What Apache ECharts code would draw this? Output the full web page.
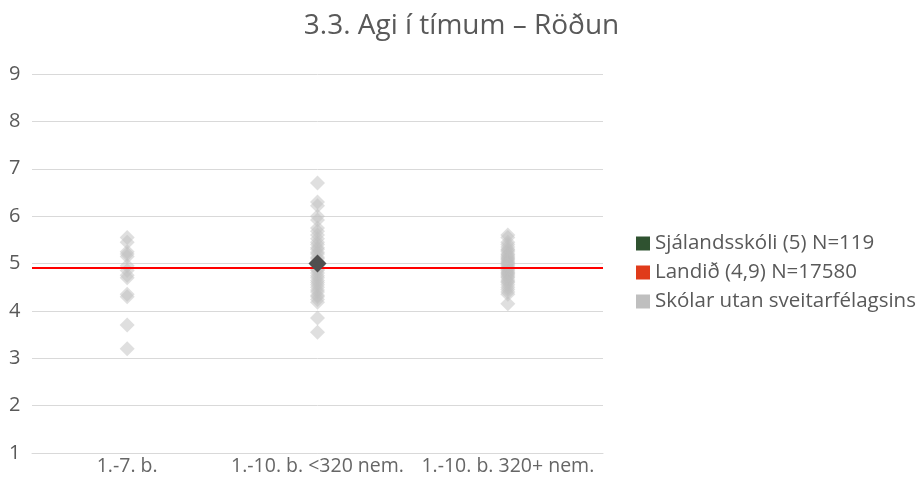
<!DOCTYPE html>
<html>
<head>
<meta charset="utf-8">
<script src="https://cdn.jsdelivr.net/npm/echarts@6/dist/echarts.min.js"></script>
<style>html,body{margin:0;padding:0;background:#fff}#c{width:923px;height:477px}</style>
</head>
<body>
<div id="c"></div>
<script>
var titleText = '3.3. Agi í tímum – Röðun';
var categories = ['1.-7. b.', '1.-10. b. <320 nem.', '1.-10. b. 320+ nem.'];
var yTicks = [1, 2, 3, 4, 5, 6, 7, 8, 9];
var schoolName = 'Sjálandsskóli (5) N=119';
var schoolCategory = 1;
var schoolValue = 5.0;
var countryName = 'Landið (4,9) N=17580';
var countryValue = 4.9;
var othersName = 'Skólar utan sveitarfélagsins';
var othersCat0 = [5.55, 5.45, 5.25, 5.2, 5.15, 4.95, 4.85, 4.75, 4.7, 4.35, 4.3, 3.7, 3.2];
var othersCat1 = [6.7, 6.3, 6.22, 6.0, 5.92, 5.75, 5.68, 5.6, 5.52, 5.45, 5.4, 5.33, 5.3, 5.24, 5.2, 5.13, 5.1, 5.04, 4.98, 4.95, 4.88, 4.85, 4.8, 4.74, 4.7, 4.64, 4.6, 4.55, 4.5, 4.44, 4.4, 4.33, 4.3, 4.24, 4.18, 3.85, 3.55];
var othersCat2 = [5.6, 5.55, 5.45, 5.4, 5.35, 5.3, 5.28, 5.25, 5.2, 5.18, 5.15, 5.12, 5.1, 5.08, 5.05, 5.02, 5.0, 4.98, 4.95, 4.92, 4.9, 4.88, 4.85, 4.82, 4.8, 4.78, 4.75, 4.72, 4.7, 4.65, 4.62, 4.6, 4.55, 4.5, 4.45, 4.4, 4.35, 4.15];

var othersData = [];
[othersCat0, othersCat1, othersCat2].forEach(function (arr, i) {
  arr.forEach(function (v) { othersData.push([i, v]); });
});

var font = '"Open Sans", "Noto Sans", sans-serif';
var chart = echarts.init(document.getElementById('c'), null, {renderer: 'canvas'});
chart.setOption({
  animation: false,
  textStyle: {fontFamily: font},
  title: {
    text: titleText, left: 'center', top: 7,
    textStyle: {fontFamily: font, fontSize: 28, fontWeight: 'normal', color: '#595959'}
  },
  grid: {left: 32, right: 320, top: 74, bottom: 24, containLabel: false},
  legend: {
    orient: 'vertical', left: 631, top: 228, itemWidth: 14, itemHeight: 14, itemGap: 8,
    itemTextGap: 8,
    icon: 'rect',
    textStyle: {fontFamily: font, fontSize: 20.5, color: '#595959'},
    data: [
      {name: schoolName, itemStyle: {color: '#2f5230', opacity: 1}},
      {name: countryName, itemStyle: {color: '#e03b1a', opacity: 1}},
      {name: othersName, itemStyle: {color: '#bfbfbf', opacity: 1}}
    ]
  },
  xAxis: {
    type: 'category', data: categories, boundaryGap: true,
    axisLine: {show: true, lineStyle: {color: '#d9d9d9', width: 1}},
    axisTick: {show: false},
    axisLabel: {fontFamily: font, fontSize: 19.5, color: '#666666', margin: 3, interval: 0},
    splitLine: {show: false}
  },
  yAxis: {
    type: 'value', min: 1, max: 9, interval: 1,
    axisLine: {show: false}, axisTick: {show: false},
    axisLabel: {fontFamily: font, fontSize: 20, color: '#595959', margin: 23, align: 'left'},
    splitLine: {show: true, lineStyle: {color: '#d9d9d9', width: 1}}
  },
  series: [
    {
      name: othersName, type: 'scatter', symbol: 'diamond', symbolSize: 15,
      itemStyle: {color: '#bfbfbf', opacity: 0.5},
      data: othersData, z: 2
    },
    {
      name: countryName, type: 'scatter', data: [],
      itemStyle: {color: '#e03b1a'},
      markLine: {
        silent: true, symbol: 'none', label: {show: false},
        lineStyle: {color: '#ff0000', width: 2, type: 'solid'},
        data: [{yAxis: countryValue}]
      },
      z: 3
    },
    {
      name: schoolName, type: 'scatter', symbol: 'diamond', symbolSize: 18,
      itemStyle: {color: '#505050', opacity: 1},
      data: [[schoolCategory, schoolValue]], z: 5
    }
  ]
});
</script>
</body>
</html>
